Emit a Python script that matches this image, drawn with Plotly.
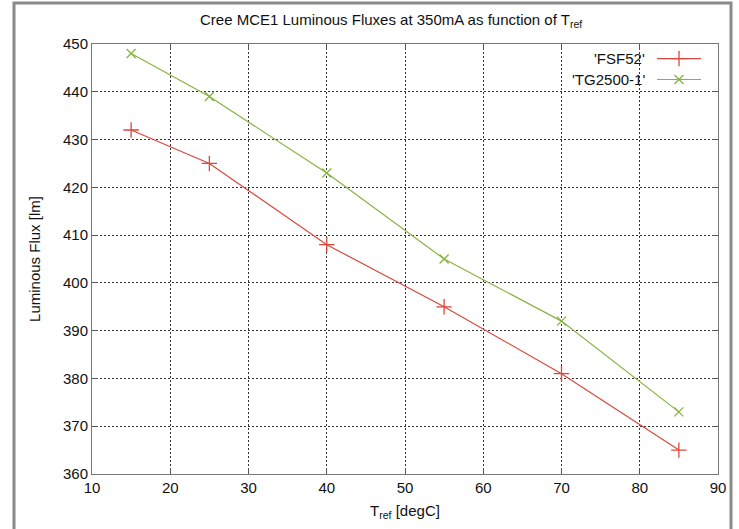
import plotly.graph_objects as go

temps = [15, 25, 40, 55, 70, 85]
fsf52 = [432, 425, 408, 395, 381, 365]
tg2500 = [448, 439, 423, 405, 392, 373]
series_names = ["'FSF52'", "'TG2500-1'"]
x_ticks = [10, 20, 30, 40, 50, 60, 70, 80, 90]
y_ticks = [360, 370, 380, 390, 400, 410, 420, 430, 440, 450]

RED = "#d9473b"
GREEN = "#86b43f"
FONT = "Liberation Sans, Arial, sans-serif"

W, H = 739, 529
L, R, T, B = 92, 21, 44, 55
pw, ph = W - L - R, H - T - B

def px_x(x):
    return (x - L) / pw

def px_y(y):
    return (H - B - y) / ph

fig = go.Figure()
fig.add_trace(go.Scatter(x=temps, y=fsf52, mode="lines+markers", name=series_names[0],
                         line=dict(color=RED, width=1.2),
                         marker=dict(symbol="cross-thin", size=11, line=dict(color=RED, width=1.3)),
                         showlegend=False))
fig.add_trace(go.Scatter(x=temps, y=tg2500, mode="lines+markers", name=series_names[1],
                         line=dict(color=GREEN, width=1.2),
                         marker=dict(symbol="x-thin", size=9, line=dict(color=GREEN, width=1.3)),
                         showlegend=False))

# legend samples on an overlay axis (0..1 paper-like)
leg_y = [px_y(58.6), px_y(79.5)]
leg_cols = [RED, GREEN]
leg_syms = [("cross-thin", 11), ("x-thin", 9)]
for i in range(2):
    fig.add_trace(go.Scatter(x=[px_x(657), px_x(701)], y=[leg_y[i], leg_y[i]], mode="lines",
                             line=dict(color=leg_cols[i], width=1.2), xaxis="x2", yaxis="y2",
                             showlegend=False, hoverinfo="skip"))
    fig.add_trace(go.Scatter(x=[px_x(679)], y=[leg_y[i]], mode="markers",
                             marker=dict(symbol=leg_syms[i][0], size=leg_syms[i][1],
                                         line=dict(color=leg_cols[i], width=1.3)),
                             xaxis="x2", yaxis="y2", showlegend=False, hoverinfo="skip"))
    fig.add_annotation(x=px_x(647), y=leg_y[i], xref="paper", yref="paper", text=series_names[i],
                       showarrow=False, xanchor="right", yanchor="middle",
                       font=dict(family=FONT, size=15, color="#111"))

axis_common = dict(showline=True, linecolor="#777", linewidth=1, mirror="allticks",
                   ticks="inside", ticklen=6, tickcolor="#555", tickwidth=1,
                   showgrid=True, gridcolor="#333", gridwidth=1, griddash="2px,2px",
                   zeroline=False, tickfont=dict(family=FONT, size=15, color="#111"))

fig.update_layout(
    width=W, height=H,
    margin=dict(l=L, r=R, t=T, b=B),
    paper_bgcolor="white", plot_bgcolor="white",
    xaxis=dict(range=[10, 90], tickvals=x_ticks, ticktext=[str(v) for v in x_ticks],
               title=dict(text="T<sub>ref</sub> [degC]", font=dict(family=FONT, size=15, color="#111"),
                          standoff=10),
               **axis_common),
    yaxis=dict(range=[360, 450], tickvals=y_ticks, ticktext=[str(v) for v in y_ticks],
               title=dict(text="Luminous Flux [lm]", font=dict(family=FONT, size=15, color="#111"),
                          standoff=18),
               **axis_common),
    xaxis2=dict(overlaying="x", range=[0, 1], visible=False, fixedrange=True),
    yaxis2=dict(overlaying="y", range=[0, 1], visible=False, fixedrange=True),
    showlegend=False,
)

fig.add_annotation(x=px_x(198), y=px_y(21), xref="paper", yref="paper",
                   text="Cree MCE1 Luminous Fluxes at 350mA as function of T<sub>ref</sub>",
                   showarrow=False, xanchor="left", yanchor="middle",
                   font=dict(family=FONT, size=15, color="#111"))

# outer gray frame
fig.add_shape(type="rect", xref="paper", yref="paper",
              x0=px_x(14), x1=px_x(731), y0=px_y(540), y1=px_y(3),
              line=dict(color="#8a8a8a", width=3), fillcolor="rgba(0,0,0,0)", layer="below")

fig.write_html("out.html", config={"displayModeBar": False},
               post_script="document.body.style.margin='0';")
